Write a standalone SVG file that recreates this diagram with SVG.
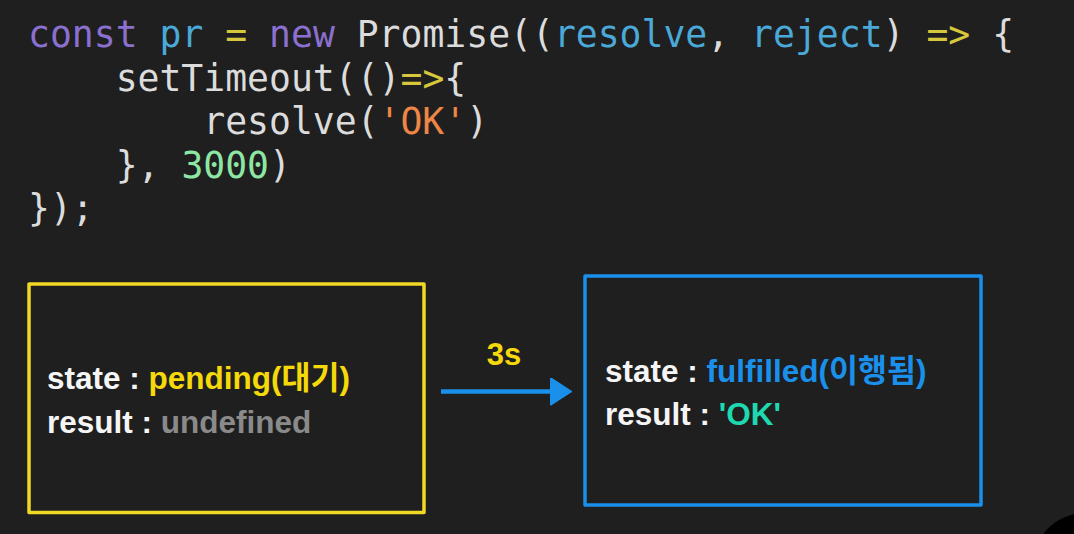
<svg xmlns="http://www.w3.org/2000/svg" width="1074" height="534" viewBox="0 0 1074 534">
<style>
.code{font-family:"DejaVu Sans Mono","Liberation Mono",monospace;font-size:36.4px;fill:#dcdcdc;white-space:pre}
.kw{fill:#8b70d0}
.id{fill:#4aa9d9}
.op{fill:#d6c73c}
.str{fill:#ee8646}
.num{fill:#8ee6a4}
.lbl{font-family:"Liberation Sans","Noto Sans CJK KR",sans-serif;font-weight:bold;font-size:31.5px;fill:#f5f5f5;white-space:pre}
.box{fill:none;stroke-width:3.5;stroke-linejoin:round}
</style>
<defs>
<marker id="ah" viewBox="0 0 22 28" refX="2" refY="14" markerWidth="22" markerHeight="28" markerUnits="userSpaceOnUse" orient="auto">
<path d="M1,1 L21,14 L1,27 Z" fill="#1a90ea" stroke="#1a90ea" stroke-width="2" stroke-linejoin="round"/>
</marker>
</defs>
<rect width="1074" height="534" fill="#1f1f1f"/>
<g id="code">
<text class="code" x="28" y="47"><tspan class="kw">const</tspan> <tspan class="id">pr</tspan> <tspan class="op">=</tspan> <tspan class="kw">new</tspan> Promise((<tspan class="id">resolve</tspan>, <tspan class="id">reject</tspan>) <tspan class="op">=&gt;</tspan> {</text>
<text class="code" x="28" y="90.5">    setTimeout(()<tspan class="op">=&gt;</tspan>{</text>
<text class="code" x="28" y="134">        resolve(<tspan class="str">'OK'</tspan>)</text>
<text class="code" x="28" y="177.5">    }, <tspan class="num">3000</tspan>)</text>
<text class="code" x="28" y="221">});</text>
</g>
<g id="pending">
<rect class="box" x="29" y="284" width="395" height="228.5" stroke="#f0d824"/>
<text class="lbl" x="47" y="389">state : <tspan fill="#f5d90a">pending(대기)</tspan></text>
<text class="lbl" x="47" y="432.5">result : <tspan fill="#8a8a8a">undefined</tspan></text>
</g>
<g id="fulfilled">
<rect class="box" x="585" y="276" width="396" height="229" stroke="#1a90ea"/>
<text class="lbl" x="605" y="382">state : <tspan fill="#1a90ea">fulfilled(이행됨)</tspan></text>
<text class="lbl" x="605" y="425">result : <tspan fill="#1ed8b0">'OK'</tspan></text>
</g>
<g id="connectors">
<line x1="441" y1="391.5" x2="552" y2="391.5" stroke="#1a90ea" stroke-width="4.5" marker-end="url(#ah)"/>
<text x="504" y="365" text-anchor="middle" font-family="Liberation Sans, sans-serif" font-weight="bold" font-size="31" fill="#f5d90a">3s</text>
</g>
<circle cx="1085" cy="565" r="52" fill="#000"/>
</svg>
